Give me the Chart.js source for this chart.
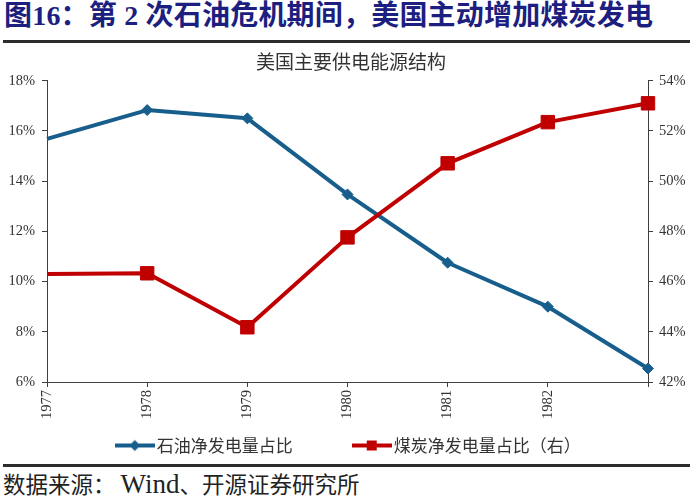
<!DOCTYPE html>
<html lang="zh-CN">
<head>
<meta charset="UTF-8">
<title>美国主要供电能源结构</title>
<script src="https://cdn.jsdelivr.net/npm/chart.js@4.4.1/dist/chart.umd.min.js"></script>
<style>
    html, body { margin: 0; padding: 0; background: #fff; }
    #page { position: relative; width: 694px; height: 500px; overflow: hidden; }
    #heading {
        position: absolute; left: 4px; top: 0; height: 32px;
        font: bold 28px/32px "Liberation Serif", "Noto Sans CJK SC", serif;
        letter-spacing: 0.2px;
        color: #1c1f80; white-space: nowrap;
    }
    .rule { position: absolute; left: 3px; width: 687px; height: 3px; background: #2b2b2b; }
    #box { position: absolute; left: 0; top: 44px; width: 694px; height: 420px; }
    #source {
        position: absolute; left: 3px; top: 471px; height: 24px;
        font: 22.5px/24px "Noto Sans CJK SC", sans-serif;
        color: #222; white-space: nowrap;
    }
    #source span { font: 27px/24px "Liberation Serif", serif; }
</style>
<script>
    // values (percent)
    var years = ['1977', '1978', '1979', '1980', '1981', '1982', '1983'];
    var oilShare = [15.68, 16.83, 16.5, 13.47, 10.75, 9.0, 6.54];
    var coalShare = [46.3, 46.33, 44.18, 47.76, 50.71, 52.35, 53.1];
    var leftRange = [6, 18];
    var rightRange = [42, 54];
    var tickStep = 2;
    var seriesNames = ['石油净发电量占比', '煤炭净发电量占比（右）'];

    var blue = '#175e8d';
    var red = '#c00000';
    var axisColor = '#404040';
    var serif = "'Liberation Serif', 'Noto Sans CJK SC', serif";
    var cjk = "'Noto Sans CJK SC', sans-serif";

    // little line + marker picture for the legend
    function legendMark(color, shape) {
        var c = document.createElement('canvas');
        c.width = 40;
        c.height = 14;
        var g = c.getContext('2d');
        g.strokeStyle = color;
        g.lineWidth = 4;
        g.beginPath();
        g.moveTo(0, 7);
        g.lineTo(40, 7);
        g.stroke();
        g.fillStyle = color;
        if (shape == 'diamond') {
            g.beginPath();
            g.moveTo(14.5, 7);
            g.lineTo(20, 1.5);
            g.lineTo(25.5, 7);
            g.lineTo(20, 12.5);
            g.closePath();
            g.fill();
        } else {
            g.fillRect(15, 2, 10, 10);
        }
        return c;
    }

    function percent(v) {
        return v + '%';
    }

    window.onload = function () {
        var marks = [legendMark(blue, 'diamond'), legendMark(red, 'square')];
        var ctx = document.getElementById('energyChart');

        var chart = new Chart(ctx, {
            type: 'line',
            data: {
                labels: years,
                datasets: [{
                    label: seriesNames[0],
                    data: oilShare,
                    yAxisID: 'y',
                    order: 2,
                    borderColor: blue,
                    backgroundColor: blue,
                    borderWidth: 4,
                    borderJoinStyle: 'round',
                    pointStyle: 'rectRot',
                    pointRadius: function (c) { return c.dataIndex === 0 ? 0 : 5.5; },
                    pointBorderWidth: 1,
                    pointBackgroundColor: blue,
                    pointBorderColor: blue,
                    tension: 0,
                    clip: false
                }, {
                    label: seriesNames[1],
                    data: coalShare,
                    yAxisID: 'y1',
                    order: 1,
                    borderColor: red,
                    backgroundColor: red,
                    borderWidth: 4,
                    borderJoinStyle: 'round',
                    pointStyle: 'rect',
                    pointRadius: function (c) { return c.dataIndex === 0 ? 0 : 9.5; },
                    pointBorderWidth: 1,
                    pointBackgroundColor: red,
                    pointBorderColor: red,
                    tension: 0,
                    clip: false
                }]
            },
            options: {
                responsive: false,
                animation: false,
                events: [],
                layout: { padding: { left: 8 } },
                plugins: {
                    title: {
                        display: true,
                        text: '美国主要供电能源结构',
                        color: '#333',
                        font: { family: cjk, size: 19, weight: 'normal' },
                        padding: { top: 6.6, bottom: 7.3 }
                    },
                    legend: {
                        position: 'bottom',
                        labels: {
                            usePointStyle: true,
                            pointStyleWidth: 27,
                            padding: 14.5,
                            color: '#333',
                            font: { family: cjk, size: 17 },
                            generateLabels: function (ch) {
                                return ch.data.datasets.map(function (ds, i) {
                                    return {
                                        // ideographic spaces keep the gap between the two entries
                                        text: i === 0 ? ds.label + '\u3000\u3000\u3000' : ds.label,
                                        pointStyle: marks[i],
                                        fillStyle: ds.borderColor,
                                        strokeStyle: ds.borderColor,
                                        fontColor: '#333',
                                        lineWidth: 0,
                                        hidden: false,
                                        datasetIndex: i
                                    };
                                });
                            }
                        }
                    },
                    tooltip: { enabled: false }
                },
                scales: {
                    x: {
                        offset: false,
                        grid: { drawOnChartArea: false, drawTicks: true, tickLength: 5, color: axisColor, tickColor: axisColor },
                        border: { display: true, color: axisColor, width: 1 },
                        ticks: {
                            autoSkip: false,
                            minRotation: 90,
                            maxRotation: 90,
                            padding: 3,
                            color: '#333',
                            font: { family: serif, size: 14.5 },
                            callback: function (v, i) {
                                // last year has no label in the picture
                                return i === years.length - 1 ? '' : years[i];
                            }
                        },
                        afterFit: function (s) { s.height = 40.5; }
                    },
                    y: {
                        position: 'left',
                        min: leftRange[0],
                        max: leftRange[1],
                        grid: { drawOnChartArea: false, drawTicks: true, tickLength: 5, color: axisColor, tickColor: axisColor },
                        border: { display: true, color: axisColor, width: 1 },
                        ticks: {
                            stepSize: tickStep,
                            padding: 7,
                            color: '#333',
                            font: { family: serif, size: 14.5 },
                            callback: percent
                        },
                        afterFit: function (s) { s.width = 39; }
                    },
                    y1: {
                        position: 'right',
                        min: rightRange[0],
                        max: rightRange[1],
                        grid: { drawOnChartArea: false, drawTicks: true, tickLength: 5, color: axisColor, tickColor: axisColor },
                        border: { display: true, color: axisColor, width: 1 },
                        ticks: {
                            stepSize: tickStep,
                            padding: 6,
                            color: '#333',
                            font: { family: serif, size: 14.5 },
                            callback: percent
                        },
                        afterFit: function (s) { s.width = 46; }
                    }
                }
            }
        });
    };
</script>
</head>
<body>
<div id="page">
    <div id="heading">图16：第 2 次石油危机期间，美国主动增加煤炭发电</div>
    <div class="rule" style="top: 40px;"></div>
    <div id="box"><canvas id="energyChart" width="694" height="420"></canvas></div>
    <div class="rule" style="top: 464px;"></div>
    <div id="source">数据来源： <span>Wind</span>、开源证券研究所</div>
</div>
</body>
</html>
